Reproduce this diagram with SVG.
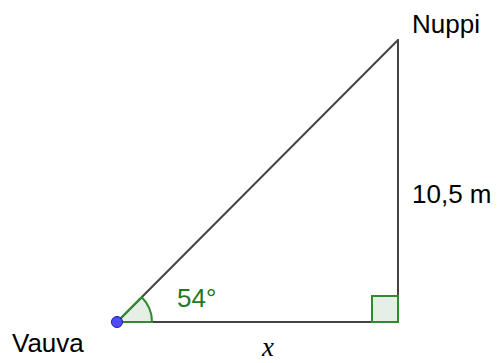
<svg xmlns="http://www.w3.org/2000/svg" width="501" height="363" viewBox="0 0 501 363">
<style>
.lbl{font-family:"Liberation Sans",Arial,sans-serif;font-size:26px;fill:#000}
.edge{stroke:#444;stroke-width:2;fill:none;stroke-linecap:round}
.ang{fill:#006400;fill-opacity:0.1;stroke:#2e8b2e;stroke-width:2}
</style>
<rect width="501" height="363" fill="#fff"/>
<g id="connectors">
<line class="edge" x1="117" y1="322" x2="398" y2="40"/>
<line class="edge" x1="117" y1="322" x2="398" y2="322"/>
<line class="edge" x1="398" y1="322" x2="398" y2="40"/>
</g>
<g id="angle54">
<path class="ang" d="M117,322 L152,322 A35,35 0 0 0 141.8,297.2 Z"/>
<text x="177" y="307" font-family="Liberation Sans,Arial,sans-serif" font-size="26" fill="#217a21">54°</text>
</g>
<g id="rightangle">
<rect class="ang" x="372" y="296" width="26" height="26"/>
</g>
<g id="Vauva">
<circle cx="117" cy="322" r="5.5" fill="#4d4dff" stroke="#1a1a99" stroke-width="1"/>
<text class="lbl" x="12" y="352">Vauva</text>
</g>
<g id="Nuppi">
<text class="lbl" x="412" y="33">Nuppi</text>
</g>
<g id="side">
<text class="lbl" x="412" y="203">10,5 m</text>
</g>
<g id="xlabel">
<text x="262" y="356" font-family="Liberation Serif,Times New Roman,serif" font-style="italic" font-size="27" fill="#000">x</text>
</g>
</svg>
